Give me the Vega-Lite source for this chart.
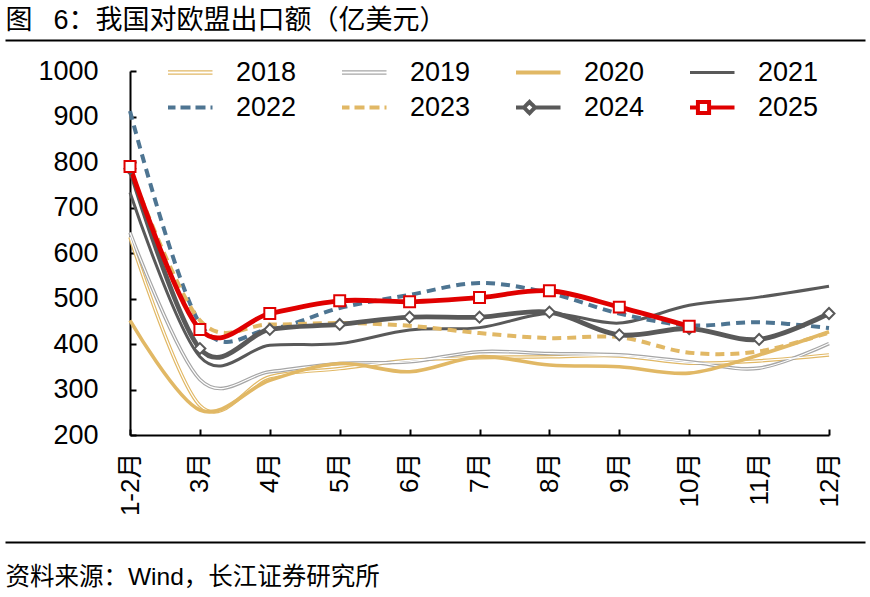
{
  "$schema": "https://vega.github.io/schema/vega-lite/v6.json",
  "description": "China exports to the EU by month, 2018-2025 (100 million USD)",
  "autosize": "none",
  "width": 699,
  "height": 364,
  "padding": {"left": 130, "top": 71, "right": 41, "bottom": 162},
  "config": {
    "view": {"stroke": null},
    "font": "Liberation Sans, Noto Sans CJK SC"
  },
  "data": {
    "values": [
      {"year": "2018", "month": "1-2月", "value": 635}, {"year": "2018", "month": "3月", "value": 265}, {"year": "2018", "month": "4月", "value": 328}, {"year": "2018", "month": "5月", "value": 346}, {"year": "2018", "month": "6月", "value": 364}, {"year": "2018", "month": "7月", "value": 370}, {"year": "2018", "month": "8月", "value": 372}, {"year": "2018", "month": "9月", "value": 374}, {"year": "2018", "month": "10月", "value": 358}, {"year": "2018", "month": "11月", "value": 363}, {"year": "2018", "month": "12月", "value": 376},
      {"year": "2019", "month": "1-2月", "value": 645}, {"year": "2019", "month": "3月", "value": 322}, {"year": "2019", "month": "4月", "value": 339}, {"year": "2019", "month": "5月", "value": 357}, {"year": "2019", "month": "6月", "value": 361}, {"year": "2019", "month": "7月", "value": 383}, {"year": "2019", "month": "8月", "value": 379}, {"year": "2019", "month": "9月", "value": 376}, {"year": "2019", "month": "10月", "value": 361}, {"year": "2019", "month": "11月", "value": 347}, {"year": "2019", "month": "12月", "value": 401},
      {"year": "2020", "month": "1-2月", "value": 452}, {"year": "2020", "month": "3月", "value": 255}, {"year": "2020", "month": "4月", "value": 320}, {"year": "2020", "month": "5月", "value": 357}, {"year": "2020", "month": "6月", "value": 339}, {"year": "2020", "month": "7月", "value": 372}, {"year": "2020", "month": "8月", "value": 354}, {"year": "2020", "month": "9月", "value": 350}, {"year": "2020", "month": "10月", "value": 336}, {"year": "2020", "month": "11月", "value": 376}, {"year": "2020", "month": "12月", "value": 427},
      {"year": "2021", "month": "1-2月", "value": 733}, {"year": "2021", "month": "3月", "value": 372}, {"year": "2021", "month": "4月", "value": 397}, {"year": "2021", "month": "5月", "value": 401}, {"year": "2021", "month": "6月", "value": 431}, {"year": "2021", "month": "7月", "value": 436}, {"year": "2021", "month": "8月", "value": 467}, {"year": "2021", "month": "9月", "value": 446}, {"year": "2021", "month": "10月", "value": 485}, {"year": "2021", "month": "11月", "value": 503}, {"year": "2021", "month": "12月", "value": 527},
      {"year": "2022", "month": "1-2月", "value": 912}, {"year": "2022", "month": "3月", "value": 445}, {"year": "2022", "month": "4月", "value": 433}, {"year": "2022", "month": "5月", "value": 479}, {"year": "2022", "month": "6月", "value": 508}, {"year": "2022", "month": "7月", "value": 534}, {"year": "2022", "month": "8月", "value": 512}, {"year": "2022", "month": "9月", "value": 467}, {"year": "2022", "month": "10月", "value": 441}, {"year": "2022", "month": "11月", "value": 448}, {"year": "2022", "month": "12月", "value": 435},
      {"year": "2023", "month": "1-2月", "value": 785}, {"year": "2023", "month": "3月", "value": 452}, {"year": "2023", "month": "4月", "value": 443}, {"year": "2023", "month": "5月", "value": 446}, {"year": "2023", "month": "6月", "value": 440}, {"year": "2023", "month": "7月", "value": 424}, {"year": "2023", "month": "8月", "value": 413}, {"year": "2023", "month": "9月", "value": 415}, {"year": "2023", "month": "10月", "value": 381}, {"year": "2023", "month": "11月", "value": 384}, {"year": "2023", "month": "12月", "value": 425},
      {"year": "2024", "month": "1-2月", "value": 785}, {"year": "2024", "month": "3月", "value": 390}, {"year": "2024", "month": "4月", "value": 432}, {"year": "2024", "month": "5月", "value": 443}, {"year": "2024", "month": "6月", "value": 459}, {"year": "2024", "month": "7月", "value": 459}, {"year": "2024", "month": "8月", "value": 470}, {"year": "2024", "month": "9月", "value": 420}, {"year": "2024", "month": "10月", "value": 434}, {"year": "2024", "month": "11月", "value": 410}, {"year": "2024", "month": "12月", "value": 467},
      {"year": "2025", "month": "1-2月", "value": 790}, {"year": "2025", "month": "3月", "value": 432}, {"year": "2025", "month": "4月", "value": 467}, {"year": "2025", "month": "5月", "value": 495}, {"year": "2025", "month": "6月", "value": 493}, {"year": "2025", "month": "7月", "value": 502}, {"year": "2025", "month": "8月", "value": 517}, {"year": "2025", "month": "9月", "value": 481}, {"year": "2025", "month": "10月", "value": 439}
    ]
  },
  "layer": [
    {
      "encoding": {
        "x": {
          "field": "month",
          "type": "ordinal",
          "sort": ["1-2月", "3月", "4月", "5月", "6月", "7月", "8月", "9月", "10月", "11月", "12月"],
          "scale": {"type": "point", "padding": 0},
          "axis": {
            "title": null,
            "labelAngle": 270,
            "labelAlign": "right",
            "labelBaseline": "middle",
            "labelFontSize": 26,
            "labelColor": "black",
            "labelPadding": 23,
            "domainColor": "black",
            "domainWidth": 2,
            "tickColor": "black",
            "tickWidth": 2,
            "tickSize": -6,
            "grid": false
          }
        },
        "y": {
          "field": "value",
          "type": "quantitative",
          "scale": {"domain": [200, 1000], "nice": false, "zero": false},
          "axis": {
            "title": null,
            "values": [200, 300, 400, 500, 600, 700, 800, 900, 1000],
            "format": "d",
            "labelFontSize": 27,
            "labelColor": "black",
            "labelPadding": 38,
            "domainColor": "black",
            "domainWidth": 2,
            "tickColor": "black",
            "tickWidth": 2,
            "tickSize": -6,
            "grid": false
          }
        },
        "color": {
          "field": "year",
          "type": "nominal",
          "scale": {
            "domain": ["2018", "2019", "2020", "2021", "2022", "2023", "2024", "2025"],
            "range": ["#E1B865", "#A6A6A6", "#E1B865", "#595959", "#4E7592", "#E1B865", "#595959", "#E00000"]
          },
          "legend": {
            "title": null,
            "orient": "none",
            "legendX": 38,
            "legendY": -13,
            "direction": "horizontal",
            "columns": 4,
            "columnPadding": 45,
            "rowPadding": 6,
            "padding": 0,
            "clipHeight": 29,
            "symbolType": "stroke",
            "symbolSize": 3844,
            "symbolStrokeWidth": 4,
            "labelFontSize": 27,
            "labelColor": "black",
            "labelOffset": 41,
            "encode": {
              "symbols": {
                "update": {
                  "shape": {"signal": "datum.value == '2018' || datum.value == '2019' ? 'M-1,-0.055H1M-1,0.055H1' : datum.value == '2024' ? 'M-1,0H-0.18M0.18,0H1M0,-0.18L0.18,0L0,0.18L-0.18,0Z' : datum.value == '2025' ? 'M-1,0H-0.18M0.18,0H1M-0.18,-0.18H0.18V0.18H-0.18Z' : 'stroke'"},
                  "strokeDash": {"signal": "datum.value == '2022' || datum.value == '2023' ? [10, 5] : [1, 0]"},
                  "strokeWidth": {"signal": "datum.value == '2018' || datum.value == '2019' ? 1.2 : datum.value == '2021' ? 3 : 4"},
                  "fill": {"signal": "datum.value == '2024' || datum.value == '2025' ? 'white' : 'transparent'"}
                }
              }
            }
          }
        }
      },
      "layer": [
        {
          "transform": [{"filter": {"field": "year", "oneOf": ["2018", "2019"]}}],
          "mark": {"type": "line", "interpolate": "cardinal", "strokeWidth": 3.6}
        },
        {
          "transform": [{"filter": {"field": "year", "oneOf": ["2018", "2019"]}}],
          "mark": {"type": "line", "interpolate": "cardinal", "strokeWidth": 1.2, "color": "white"},
          "encoding": {"color": {"value": "white"}, "detail": {"field": "year"}}
        },
        {
          "transform": [{"filter": {"field": "year", "equal": "2020"}}],
          "mark": {"type": "line", "interpolate": "cardinal", "strokeWidth": 3.6}
        },
        {
          "transform": [{"filter": {"field": "year", "equal": "2021"}}],
          "mark": {"type": "line", "interpolate": "cardinal", "strokeWidth": 3}
        },
        {
          "transform": [{"filter": {"field": "year", "oneOf": ["2022", "2023"]}}],
          "mark": {"type": "line", "interpolate": "cardinal", "strokeWidth": 4, "strokeDash": [9, 6]}
        },
        {
          "transform": [{"filter": {"field": "year", "oneOf": ["2024", "2025"]}}],
          "mark": {"type": "line", "interpolate": "cardinal", "strokeWidth": 4.8}
        },
        {
          "transform": [{"filter": {"field": "year", "oneOf": ["2024", "2025"]}}],
          "mark": {"type": "point", "filled": false, "fill": "white", "fillOpacity": 1, "opacity": 1, "strokeWidth": 2, "size": 120},
          "encoding": {
            "shape": {
              "field": "year",
              "type": "nominal",
              "scale": {"domain": ["2024", "2025"], "range": ["diamond", "square"]},
              "legend": null
            }
          }
        }
      ]
    },
    {
      "data": {"values": [{"edge": 0}, {"edge": 1}]},
      "mark": {"type": "point", "opacity": 0},
      "encoding": {
        "x": {
          "field": "edge",
          "type": "quantitative",
          "scale": {"domain": [0, 1], "range": [-125, 735]},
          "axis": {
            "orient": "top",
            "offset": 31,
            "labels": false,
            "ticks": false,
            "grid": false,
            "domainColor": "black",
            "domainWidth": 2,
            "title": "图\u2002 6：我国对欧盟出口额（亿美元）",
            "titleAnchor": "start",
            "titleAlign": "left",
            "titleFontSize": 27,
            "titleFontWeight": "normal",
            "titleColor": "black",
            "titlePadding": 6
          }
        }
      }
    },
    {
      "data": {"values": [{"edge": 0}, {"edge": 1}]},
      "mark": {"type": "point", "opacity": 0},
      "encoding": {
        "x": {
          "field": "edge",
          "type": "quantitative",
          "scale": {"domain": [0, 1], "range": [-125, 735]},
          "axis": {
            "orient": "bottom",
            "offset": 107,
            "labels": false,
            "ticks": false,
            "grid": false,
            "domainColor": "black",
            "domainWidth": 2,
            "title": "资料来源：Wind，长江证券研究所",
            "titleAnchor": "start",
            "titleAlign": "left",
            "titleFontSize": 24.5,
            "titleFontWeight": "normal",
            "titleColor": "black",
            "titlePadding": 23
          }
        }
      }
    }
  ],
  "resolve": {"scale": {"x": "independent"}, "axis": {"x": "independent"}}
}
